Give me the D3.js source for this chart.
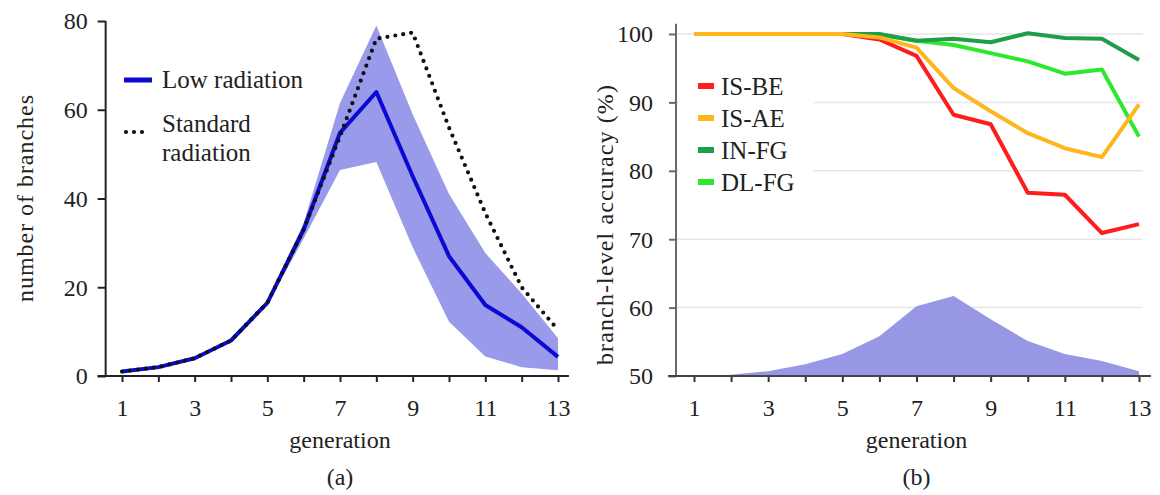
<!DOCTYPE html>
<html>
<head>
<meta charset="utf-8">
<script src="https://cdn.jsdelivr.net/npm/d3@7"></script>
<style>
html,body{margin:0;padding:0;background:#fff;}
svg text{font-family:"Liberation Serif","Times New Roman",serif;fill:#222;}
</style>
</head>
<body>
<svg id="chart" width="1160" height="495"></svg>
<script>
// ---------- data ----------
const generations = [1,2,3,4,5,6,7,8,9,10,11,12,13];
const lowRadiation  = [1, 2, 4, 8, 16.5, 33, 54.8, 64, 45, 27, 16, 11, 4.3];
const lowUpper      = [1.2, 2.2, 4.3, 8.4, 17, 34.5, 61.5, 79, 59, 41, 27.7, 18.6, 8.5];
const lowLower      = [0.8, 1.8, 3.7, 7.6, 16, 31, 46.4, 48.2, 29, 12.2, 4.4, 2, 1.3];
const standardRadiation = [1, 2, 4, 8, 16.5, 33, 54, 76, 77.4, 56, 36.7, 20, 10.4];

const isBE = [100, 100, 100, 100, 100, 99.2, 96.8, 88.2, 86.8, 76.8, 76.5, 70.9, 72.2];
const isAE = [100, 100, 100, 100, 100, 99.5, 98, 92.1, 88.7, 85.5, 83.3, 82, 89.7];
const inFG = [100, 100, 100, 100, 100, 100, 99, 99.3, 98.8, 100.1, 99.4, 99.3, 96.2];
const dlFG = [100, 100, 100, 100, 100, 99.9, 99, 98.4, 97.2, 96, 94.2, 94.8, 85];
const branchDist = [50, 50.2, 50.7, 51.7, 53.2, 55.8, 60.2, 61.7, 58.3, 55.1, 53.2, 52.2, 50.7];

const leftYTicks = [0, 20, 40, 60, 80];
const rightYTicks = [50, 60, 70, 80, 90, 100];
const rightGrid = [60, 70, 80, 90, 100];
const xTickLabels = [1, 3, 5, 7, 9, 11, 13];

const seriesNames = ["IS-BE", "IS-AE", "IN-FG", "DL-FG"];
const seriesColors = {"IS-BE":"#ff1c1c", "IS-AE":"#ffb61e", "IN-FG":"#1f9e48", "DL-FG":"#2ee82e"};
const seriesData = {"IS-BE":isBE, "IS-AE":isAE, "IN-FG":inFG, "DL-FG":dlFG};
const drawOrder = ["IS-BE", "DL-FG", "IN-FG", "IS-AE"];

// ---------- setup ----------
const svg = d3.select("#chart");
const FS = 24;

// ---------- left panel ----------
const xL = d3.scaleLinear().domain([1,13]).range([122,558]);
const yL = d3.scaleLinear().domain([0,80]).range([376,21]);
const gL = svg.append("g");

// band
const bandL = d3.area()
  .x((d,i)=>xL(generations[i]))
  .y0((d,i)=>yL(lowLower[i]))
  .y1((d,i)=>yL(lowUpper[i]));
gL.append("path").datum(generations).attr("d", bandL).attr("fill", "#9a9aea");

// axes
const axisColorL = "#222";
const yAxisXL = xL(0.55);
gL.append("g").attr("transform", `translate(${yAxisXL},0)`)
  .call(d3.axisLeft(yL).tickValues(leftYTicks).tickSize(8).tickPadding(10))
  .call(g=>{g.select(".domain").remove();
    g.selectAll("line").attr("stroke", axisColorL).attr("stroke-width", 2);
    g.selectAll("text").style("font-size", FS+"px").attr("fill", "#222").attr("dy","0.33em");});
gL.append("line").attr("x1", yAxisXL).attr("x2", yAxisXL).attr("y1", yL(80)).attr("y2", yL(0))
  .attr("stroke", axisColorL).attr("stroke-width", 2);
gL.append("g").attr("transform", `translate(0,${yL(0)})`)
  .call(d3.axisBottom(xL).tickValues(generations).tickSize(6).tickPadding(17)
    .tickFormat(d=>xTickLabels.includes(d)?d:""))
  .call(g=>{g.select(".domain").remove();
    g.selectAll("line").attr("stroke", axisColorL).attr("stroke-width", 2);
    g.selectAll("text").style("font-size", FS+"px").attr("fill", "#222");});
gL.append("line").attr("x1", yAxisXL-8).attr("x2", xL(13.3)).attr("y1", yL(0)).attr("y2", yL(0))
  .attr("stroke", axisColorL).attr("stroke-width", 2);

// lines
const lineL = arr => d3.line().x((d,i)=>xL(generations[i])).y((d,i)=>yL(arr[i]))(arr);
gL.append("path").attr("d", lineL(lowRadiation)).attr("fill","none")
  .attr("stroke","#0a0ad2").attr("stroke-width",4).attr("stroke-linejoin","round");
gL.append("path").attr("d", lineL(standardRadiation)).attr("fill","none")
  .attr("stroke","#111").attr("stroke-width",4.2).attr("stroke-linecap","round")
  .attr("stroke-dasharray","0 8");

// labels
gL.append("text").attr("x", xL(7)).attr("y", 448).attr("text-anchor","middle")
  .style("font-size", FS+"px").text("generation");
gL.append("text").attr("x", xL(7)).attr("y", 485).attr("text-anchor","middle")
  .style("font-size", FS+"px").text("(a)");
gL.append("text").attr("transform", `translate(33,${(95+302)/2}) rotate(-90)`)
  .attr("text-anchor","middle").attr("textLength", 207).attr("lengthAdjust","spacing")
  .style("font-size", FS+"px").text("number of branches");

// legend
gL.append("line").attr("x1",124).attr("x2",152).attr("y1",80).attr("y2",80)
  .attr("stroke","#0a0ad2").attr("stroke-width",5);
gL.append("text").attr("x",162).attr("y",88).style("font-size","25px").text("Low radiation");
gL.append("line").attr("x1",126).attr("x2",146).attr("y1",132).attr("y2",132)
  .attr("stroke","#111").attr("stroke-width",4.2).attr("stroke-linecap","round").attr("stroke-dasharray","0 8");
gL.append("text").attr("x",162).attr("y",132).style("font-size","25px").text("Standard");
gL.append("text").attr("x",162).attr("y",161).style("font-size","25px").text("radiation");

// ---------- right panel ----------
const xR = d3.scaleLinear().domain([1,13]).range([694,1139]);
const yR = d3.scaleLinear().domain([50,100]).range([376,34]);
const gR = svg.append("g");
const axisColorR = "#6a6a6a";
const yAxisXR = xR(0.515);

// grid
gR.selectAll("line.grid").data(rightGrid).enter().append("line").attr("class","grid")
  .attr("x1", yAxisXR).attr("x2", xR(13.1)).attr("y1", d=>yR(d)).attr("y2", d=>yR(d))
  .attr("stroke","#e6e6e6").attr("stroke-width",1.5);

// area
const areaR = d3.area().x((d,i)=>xR(generations[i])).y0(yR(50)).y1((d,i)=>yR(branchDist[i]));
gR.append("path").datum(generations).attr("d", areaR).attr("fill","#9797e6");

// legend background
gR.append("rect").attr("x", yAxisXR+2).attr("y", 62).attr("width", 813-yAxisXR-2).attr("height", 140).attr("fill","#fff");

// axes
gR.append("g").attr("transform", `translate(${yAxisXR},0)`)
  .call(d3.axisLeft(yR).tickValues(rightYTicks).tickSize(7).tickPadding(16))
  .call(g=>{g.select(".domain").remove();
    g.selectAll("line").attr("stroke", axisColorR).attr("stroke-width", 2);
    g.selectAll("text").style("font-size", FS+"px").attr("fill", "#222").attr("dy","0.33em");});
gR.append("line").attr("x1", yAxisXR).attr("x2", yAxisXR).attr("y1", yR(101.5)).attr("y2", yR(50))
  .attr("stroke", axisColorR).attr("stroke-width", 2);
gR.append("g").attr("transform", `translate(0,${yR(50)})`)
  .call(d3.axisBottom(xR).tickValues(generations).tickSize(6).tickPadding(17)
    .tickFormat(d=>xTickLabels.includes(d)?d:""))
  .call(g=>{g.select(".domain").remove();
    g.selectAll("line").attr("stroke", "#333").attr("stroke-width", 2);
    g.selectAll("text").style("font-size", FS+"px").attr("fill", "#222");});
gR.append("line").attr("x1", yAxisXR-8).attr("x2", xR(13.32)).attr("y1", yR(50)).attr("y2", yR(50))
  .attr("stroke", "#444").attr("stroke-width", 2);

// lines
const lineR = arr => d3.line().x((d,i)=>xR(generations[i])).y((d,i)=>yR(arr[i]))(arr);
drawOrder.forEach(name=>{
  gR.append("path").attr("d", lineR(seriesData[name])).attr("fill","none")
    .attr("stroke", seriesColors[name]).attr("stroke-width",4).attr("stroke-linejoin","round");
});

// labels
gR.append("text").attr("x", xR(7)).attr("y", 448).attr("text-anchor","middle")
  .style("font-size", FS+"px").text("generation");
gR.append("text").attr("x", xR(7)).attr("y", 485).attr("text-anchor","middle")
  .style("font-size", FS+"px").text("(b)");
gR.append("text").attr("transform", `translate(613,225) rotate(-90)`)
  .attr("text-anchor","middle").attr("textLength", 280).attr("lengthAdjust","spacing")
  .style("font-size", FS+"px").text("branch-level  accuracy (%)");

// legend
const legendY = d3.scalePoint().domain(seriesNames).range([86,182]);
const lg = gR.append("g");
seriesNames.forEach(name=>{
  lg.append("line").attr("x1",698).attr("x2",714).attr("y1",legendY(name)).attr("y2",legendY(name))
    .attr("stroke", seriesColors[name]).attr("stroke-width",6);
  lg.append("text").attr("x",721).attr("y",legendY(name)).attr("dy","0.35em")
    .style("font-size","25px").text(name);
});
</script>
</body>
</html>
